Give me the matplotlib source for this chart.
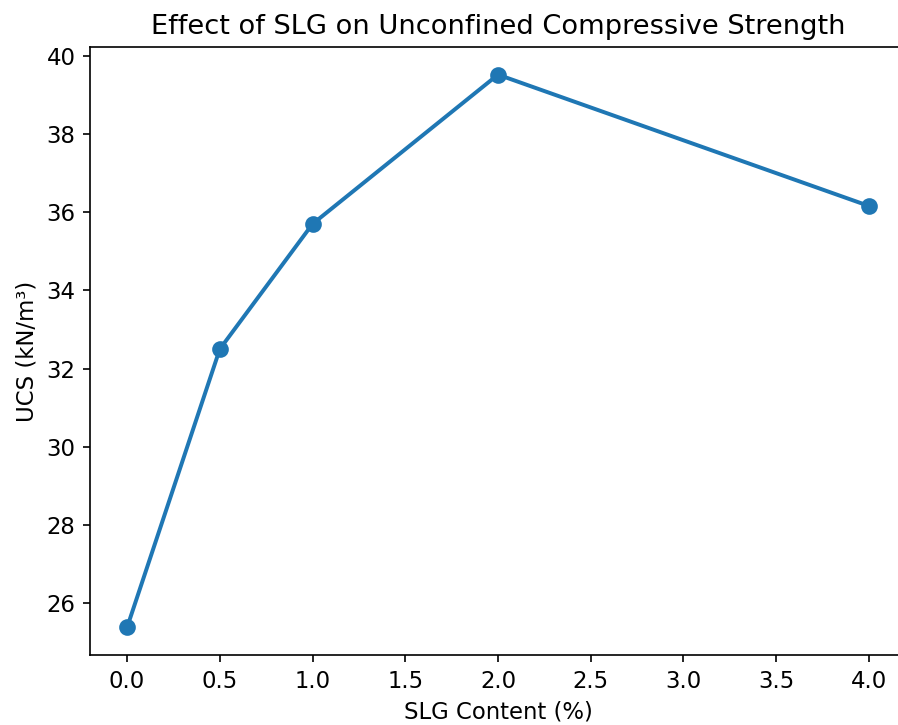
import matplotlib
matplotlib.use("Agg")
import matplotlib.pyplot as plt

slg_content = [0.0, 0.5, 1.0, 2.0, 4.0]
ucs_values = [25.38, 32.5, 35.7, 39.52, 36.16]

W, H, DPI = 898, 725, 150
fs = 10.9
plt.rcParams.update({
    'font.size': fs,
    'axes.titlesize': fs * 1.2,
    'axes.labelsize': fs,
    'xtick.labelsize': fs,
    'ytick.labelsize': fs,
})
fig = plt.figure(figsize=(W / DPI, H / DPI), dpi=DPI)
left, right, top, bottom = 90, 906, 47, 655
ax = fig.add_axes([left / W, 1 - bottom / H, (right - left) / W, (bottom - top) / H])
ax.plot(slg_content, ucs_values, marker='o', linewidth=1.9, markersize=7, color='#1f77b4')
ax.set_title("Effect of SLG on Unconfined Compressive Strength")
ax.set_xlabel("SLG Content (%)")
ax.set_ylabel("UCS (kN/m³)")
fig.savefig("out.png", dpi=DPI)
